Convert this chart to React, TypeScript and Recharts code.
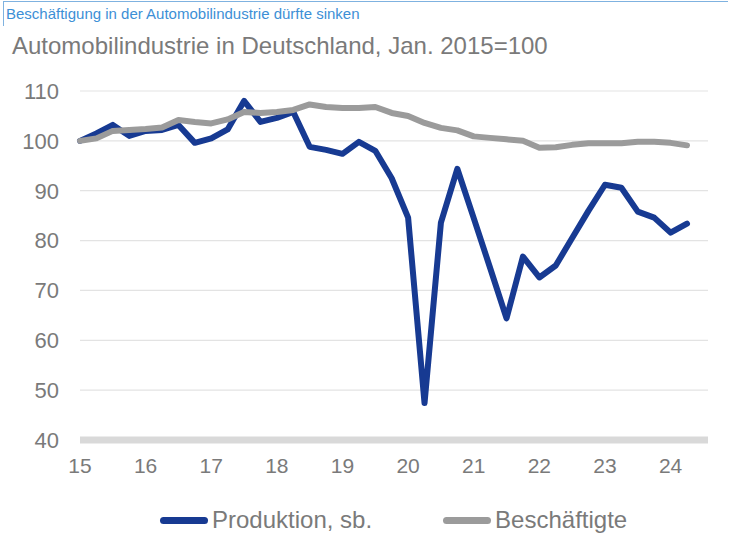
import React from 'react';
import { LineChart, Line, XAxis, YAxis, CartesianGrid } from 'recharts';

// Quartale 2015Q1 bis 2024Q2
const quarters = [
  '15Q1', '15Q2', '15Q3', '15Q4', '16Q1', '16Q2', '16Q3', '16Q4',
  '17Q1', '17Q2', '17Q3', '17Q4', '18Q1', '18Q2', '18Q3', '18Q4',
  '19Q1', '19Q2', '19Q3', '19Q4', '20Q1', '20Q2', '20Q3', '20Q4',
  '21Q1', '21Q2', '21Q3', '21Q4', '22Q1', '22Q2', '22Q3', '22Q4',
  '23Q1', '23Q2', '23Q3', '23Q4', '24Q1', '24Q2',
];

const production = [
  100, 101.5, 103.2, 101, 102, 102.2, 103.2, 99.6,
  100.5, 102.3, 108, 103.8, 104.6, 105.8, 98.8, 98.2,
  97.4, 99.8, 98, 92.5, 84.6, 47.4, 83.6, 94.4,
  84.5, 74.5, 64.4, 76.8, 72.6, 75, 80.5, 86,
  91.2, 90.6, 85.8, 84.6, 81.6, 83.4,
];

const employment = [
  100, 100.5, 102, 102.2, 102.4, 102.7, 104.2, 103.8,
  103.5, 104.3, 105.8, 105.6, 105.8, 106.2, 107.3, 106.8,
  106.6, 106.6, 106.8, 105.6, 105, 103.6, 102.6, 102.1,
  100.9, 100.6, 100.3, 100, 98.6, 98.7, 99.2, 99.5,
  99.5, 99.5, 99.8, 99.8, 99.6, 99.1,
];

const yTicks = [40, 50, 60, 70, 80, 90, 100, 110];

const COLORS = {
  production: '#173a92',
  employment: '#9b9b9b',
  text: '#7a7a7a',
  header: '#3d8fd6',
};

const FONT = '"Liberation Sans", Arial, sans-serif';

const chartData = quarters.map((q, i) => ({
  q,
  production: production[i],
  employment: employment[i],
}));

const legendItems = [
  { name: 'Produktion, sb.', color: COLORS.production },
  { name: 'Beschäftigte', color: COLORS.employment },
];

export default function App() {
  return (
    <div style={{ position: 'relative', width: 730, height: 541, background: '#fff', fontFamily: FONT, overflow: 'hidden' }}>
      <style>{'body{margin:0}'}</style>
      {/* Rahmen oben */}
      <div style={{ position: 'absolute', left: 3, top: 1, width: 724, height: 24, borderTop: '1px solid #7fb2e0', borderLeft: '1px solid #7fb2e0' }} />
      <div style={{ position: 'absolute', left: 6, top: 5, fontSize: 15, color: COLORS.header }}>
        Beschäftigung in der Automobilindustrie dürfte sinken
      </div>
      <div style={{ position: 'absolute', left: 12, top: 32, fontSize: 24, color: COLORS.text }}>
        Automobilindustrie in Deutschland, Jan. 2015=100
      </div>

      <div style={{ position: 'absolute', left: 0, top: 0 }}>
        <LineChart width={730} height={500} data={chartData} margin={{ top: 91, right: 22, bottom: 0, left: 0 }}>
          <CartesianGrid vertical={false} stroke="#e3e3e3" strokeWidth={1.2} />
          <XAxis
            dataKey="q"
            interval={3}
            tickFormatter={(q: string) => q.slice(0, 2)}
            axisLine={{ stroke: '#d9d9d9', strokeWidth: 7 }}
            tickLine={false}
            tick={{ fill: COLORS.text, fontSize: 21, fontFamily: FONT }}
            tickMargin={12}
            padding={{ left: 0, right: 21 }}
            height={60}
          />
          <YAxis
            domain={[40, 110]}
            ticks={yTicks}
            axisLine={false}
            tickLine={false}
            tick={{ fill: COLORS.text, fontSize: 22, fontFamily: FONT }}
            tickMargin={15}
            width={80}
          />
          <Line
            type="linear"
            dataKey="production"
            name="Produktion, sb."
            stroke={COLORS.production}
            strokeWidth={6}
            dot={false}
            isAnimationActive={false}
            strokeLinejoin="round"
            strokeLinecap="round"
          />
          <Line
            type="linear"
            dataKey="employment"
            name="Beschäftigte"
            stroke={COLORS.employment}
            strokeWidth={6}
            dot={false}
            isAnimationActive={false}
            strokeLinejoin="round"
            strokeLinecap="round"
          />
        </LineChart>
      </div>

      {/* Legende */}
      <div style={{ position: 'absolute', left: 160, top: 506, display: 'flex', gap: 71, fontSize: 24, color: COLORS.text }}>
        {legendItems.map((item) => (
          <div key={item.name} style={{ display: 'flex', alignItems: 'center' }}>
            <span style={{ display: 'inline-block', width: 48, height: 7, borderRadius: 4, background: item.color, marginRight: 4 }} />
            <span>{item.name}</span>
          </div>
        ))}
      </div>
    </div>
  );
}
